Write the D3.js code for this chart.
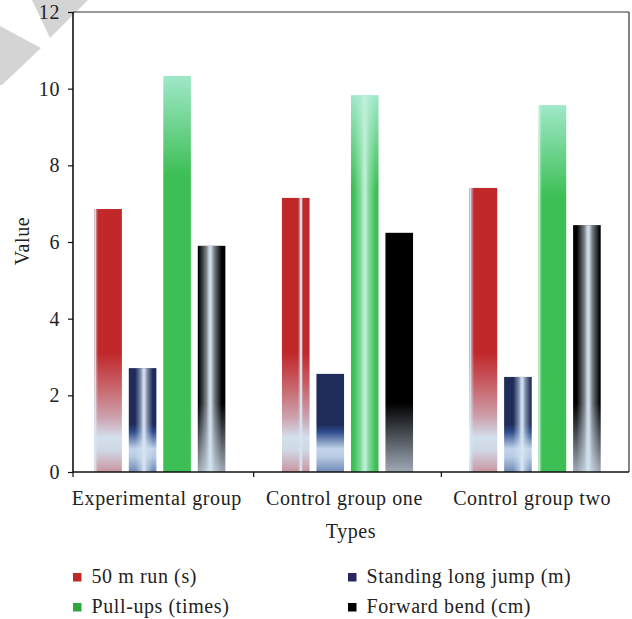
<!DOCTYPE html>
<html>
<head>
<meta charset="utf-8">
<script src="https://cdn.jsdelivr.net/npm/d3@7"></script>
<style>
body{margin:0;background:#fff;}
svg text{font-family:"Liberation Serif","Times New Roman",serif;fill:#222;letter-spacing:0.6px;}
</style>
</head>
<body>
<div id="wrapper"></div>
<script>
// Data
const groups = ["Experimental group", "Control group one", "Control group two"];
const series = ["50 m run (s)", "Standing long jump (m)", "Pull-ups (times)", "Forward bend (cm)"];
const run50 = [6.86, 7.15, 7.41];
const longJump = [2.71, 2.56, 2.48];
const pullUps = [10.33, 9.83, 9.57];
const forwardBend = [5.90, 6.24, 6.44];
const yTicks = [0, 2, 4, 6, 8, 10, 12];
const seriesValues = [run50, longJump, pullUps, forwardBend];

// Styles
const legendColors = ["#c0282a", "#26285e", "#2ea83a", "#000000"];
// vertical stops given in value units (user space)
const vStops = [
  [[12,"#c0282a"],[3.1,"#c0282a"],[2.2,"#c8656c"],[1.4,"#cda4b0"],[0.9,"#d3e0ee"],[0.55,"#d0d5e3"],[0,"#c9959f"]],
  [[12,"#1f2b58"],[1.25,"#1f2b58"],[1.05,"#2d4b8c"],[0.6,"#c2d4ea"],[0.4,"#b8cbe4"],[0,"#7089b4"]],
  null,
  [[12,"#000000"],[1.8,"#000000"],[1.2,"#33383d"],[0,"#a0aab5"]]
];
// light vertical streaks per series per group
const streaks = [
  [{c:0.02,w:0.12}, {c:0.68,w:0.1}, {c:0.02,w:0.14}],
  [{c:0.55,w:0.32}, null, {c:0.65,w:0.32}],
  [null, {c:0.5,w:0.4}, {c:0.02,w:0.1}],
  [{c:0.45,w:0.42}, null, {c:0.55,w:0.42}]
];

const dimension = {width: 632, height: 619, left: 73, right: 629, top: 12, bottom: 472};
const fontSize = 20;

const svg = d3.select("#wrapper").append("svg")
  .attr("width", dimension.width).attr("height", dimension.height);
const defs = svg.append("defs");

// watermark corner
svg.append("polygon").attr("points", "32,0 88,0 50,38").attr("fill", "#d4d4d4");
svg.append("polygon").attr("points", "0,26 41,48 2,85 0,85").attr("fill", "#d4d4d4");

// Scales
const xScale = d3.scaleBand().domain(groups).range([66, dimension.right]);
const xInner = d3.scaleBand().domain(d3.range(series.length))
  .range([0, xScale.bandwidth()]).paddingInner(0.2).paddingOuter(0.82);
const yScale = d3.scaleLinear().domain([0, 12]).range([dimension.bottom, dimension.top]);

// Gradients
vStops.forEach((stops, i) => {
  if (!stops) return;
  const g = defs.append("linearGradient").attr("id", "v" + i)
    .attr("gradientUnits", "userSpaceOnUse")
    .attr("x1", 0).attr("x2", 0).attr("y1", yScale(12)).attr("y2", yScale(0));
  stops.forEach(s => g.append("stop").attr("offset", (12 - s[0]) / 12).attr("stop-color", s[1]));
});
const gg = defs.append("linearGradient").attr("id", "v2").attr("x1", 0).attr("x2", 0).attr("y1", 0).attr("y2", 1);
gg.append("stop").attr("offset", 0).attr("stop-color", "#9fe8c8");
gg.append("stop").attr("offset", 0.25).attr("stop-color", "#3dbf55");
gg.append("stop").attr("offset", 1).attr("stop-color", "#3dbf55");

// Bars
const bars = [];
series.forEach((s, si) => groups.forEach((g, gi) => bars.push({si, gi, g, v: seriesValues[si][gi]})));

const barG = svg.append("g");
barG.selectAll("rect.bar").data(bars).join("rect").attr("class", "bar")
  .attr("x", d => xScale(d.g) + xInner(d.si))
  .attr("y", d => yScale(d.v))
  .attr("width", xInner.bandwidth())
  .attr("height", d => yScale(0) - yScale(d.v))
  .attr("fill", d => `url(#v${d.si})`);

const withStreak = bars.filter(d => streaks[d.si][d.gi]);
withStreak.forEach((d, k) => {
  const st = streaks[d.si][d.gi];
  const g = defs.append("linearGradient").attr("id", "s" + k).attr("x1", 0).attr("x2", 1).attr("y1", 0).attr("y2", 0);
  const col = d.si === 2 ? "#bff0d8" : "#d6e4f2";
  [[st.c - st.w, 0], [st.c - st.w * 0.35, 0.55], [st.c - 0.03, 0.95], [st.c + 0.03, 0.95], [st.c + st.w * 0.35, 0.55], [st.c + st.w, 0]]
    .forEach(p => g.append("stop").attr("offset", Math.max(0, Math.min(1, p[0])))
      .attr("stop-color", col).attr("stop-opacity", p[1]));
  d.sid = "s" + k;
});
barG.selectAll("rect.streak").data(withStreak).join("rect").attr("class", "streak")
  .attr("x", d => xScale(d.g) + xInner(d.si))
  .attr("y", d => yScale(d.v))
  .attr("width", xInner.bandwidth())
  .attr("height", d => yScale(0) - yScale(d.v))
  .attr("fill", d => `url(#${d.sid})`);

// Frame
svg.append("line").attr("x1", dimension.left).attr("x2", dimension.right)
  .attr("y1", dimension.top).attr("y2", dimension.top).attr("stroke", "#333").attr("stroke-width", 1.2);
svg.append("line").attr("x1", dimension.right).attr("x2", dimension.right)
  .attr("y1", dimension.top).attr("y2", dimension.bottom).attr("stroke", "#333").attr("stroke-width", 1.2);

// y axis
const yAxis = svg.append("g").attr("transform", `translate(${dimension.left},0)`)
  .call(d3.axisLeft(yScale).tickValues(yTicks).tickSize(5).tickPadding(8).tickFormat(d3.format("d")));
yAxis.select(".domain").attr("stroke", "#111").attr("stroke-width", 1.6).attr("d", `M0,${dimension.top}V${dimension.bottom}`);
yAxis.selectAll(".tick line").attr("stroke", "#111").attr("stroke-width", 1.2);
yAxis.selectAll("text").attr("font-size", fontSize).attr("font-family", "Liberation Serif").attr("fill", "#222");

// x axis
const xAxisG = svg.append("g");
xAxisG.append("line").attr("x1", dimension.left).attr("x2", dimension.right)
  .attr("y1", dimension.bottom).attr("y2", dimension.bottom).attr("stroke", "#111").attr("stroke-width", 1.6);
const boundaries = [dimension.left].concat(groups.slice(0, -1).map(g => xScale(g) + xScale.bandwidth()));
xAxisG.selectAll("line.tick").data(boundaries).join("line").attr("class", "tick")
  .attr("x1", d => d).attr("x2", d => d)
  .attr("y1", dimension.bottom).attr("y2", dimension.bottom + 5)
  .attr("stroke", "#111").attr("stroke-width", 1.2);
xAxisG.selectAll("text").data(groups).join("text")
  .attr("x", d => xScale(d) + xScale.bandwidth() / 2 - 3)
  .attr("y", 505).attr("text-anchor", "middle").attr("font-size", fontSize).text(d => d);

svg.append("text").attr("x", 351).attr("y", 538).attr("text-anchor", "middle")
  .attr("font-size", fontSize).text("Types");
svg.append("text").attr("transform", "translate(29,241) rotate(-90)")
  .attr("text-anchor", "middle").attr("font-size", fontSize).text("Value");

// Legend
const legend = svg.append("g").selectAll("g").data(series).join("g")
  .attr("transform", (d, i) => `translate(${i % 2 === 0 ? 73 : 348},${i < 2 ? 583 : 613})`);
legend.append("rect").attr("x", 0).attr("y", -10).attr("width", 8.5).attr("height", 8.5)
  .attr("fill", (d, i) => legendColors[i]);
legend.append("text").attr("x", 18.5).attr("y", 0).attr("font-size", fontSize).text(d => d);
</script>
</body>
</html>
